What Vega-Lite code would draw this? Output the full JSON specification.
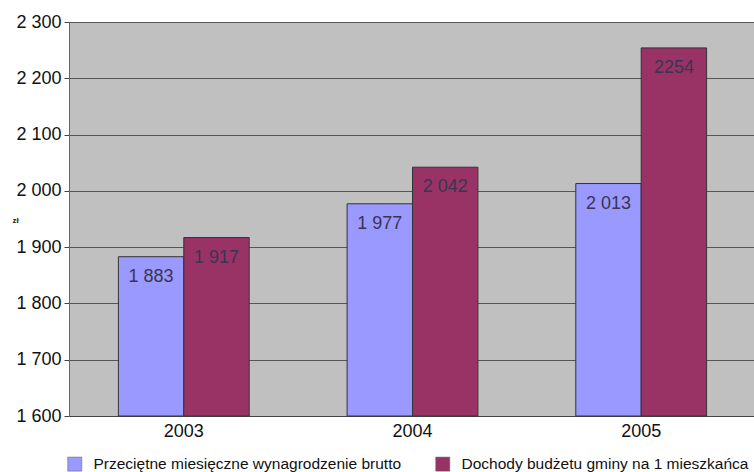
{
  "$schema": "https://vega.github.io/schema/vega-lite/v6.json",
  "autosize": "none",
  "width": 687,
  "height": 394,
  "padding": {"left": 69, "top": 22, "right": 0, "bottom": 56},
  "background": "white",
  "config": {
    "font": "Liberation Sans",
    "locale": {"number": {"decimal": ",", "thousands": " ", "grouping": [3], "currency": ["", " zł"]}},
    "view": {"fill": "#c0c0c0", "stroke": null}
  },
  "data": {
    "values": [
      {"rok": "2003", "seria": "Przeciętne miesięczne wynagrodzenie brutto", "wartosc": 1883, "etykieta": "1 883"},
      {"rok": "2003", "seria": "Dochody budżetu gminy na 1 mieszkańca", "wartosc": 1917, "etykieta": "1 917"},
      {"rok": "2004", "seria": "Przeciętne miesięczne wynagrodzenie brutto", "wartosc": 1977, "etykieta": "1 977"},
      {"rok": "2004", "seria": "Dochody budżetu gminy na 1 mieszkańca", "wartosc": 2042, "etykieta": "2 042"},
      {"rok": "2005", "seria": "Przeciętne miesięczne wynagrodzenie brutto", "wartosc": 2013, "etykieta": "2 013"},
      {"rok": "2005", "seria": "Dochody budżetu gminy na 1 mieszkańca", "wartosc": 2254, "etykieta": "2254"}
    ]
  },
  "encoding": {
    "x": {
      "field": "rok", "type": "nominal",
      "scale": {"paddingInner": 0.428, "paddingOuter": 0.216},
      "axis": {"title": null, "labelAngle": 0, "labelFontSize": 18, "labelColor": "#111", "domainColor": "#444", "tickColor": "#444", "tickSize": 0, "labelPadding": 6}
    },
    "xOffset": {"field": "seria", "type": "nominal", "sort": ["Przeciętne miesięczne wynagrodzenie brutto", "Dochody budżetu gminy na 1 mieszkańca"]},
    "y": {
      "field": "wartosc", "type": "quantitative",
      "scale": {"domain": [1600, 2300], "zero": false, "nice": false},
      "axis": {
        "title": "zł", "titleAngle": 0, "titleFontSize": 8, "titleFontWeight": "bold", "titleColor": "#222",
        "titleX": -57, "titleY": 198, "titleAlign": "left", "titleBaseline": "middle",
        "tickCount": 7, "format": ",d", "labelFontSize": 18, "labelColor": "#111",
        "grid": true, "gridColor": "#555", "gridOpacity": 1, "gridWidth": 1,
        "domainColor": "#666", "tickColor": "#444", "tickSize": 5, "labelPadding": 3
      }
    }
  },
  "layer": [
    {
      "mark": {"type": "bar", "stroke": "#333", "strokeWidth": 1},
      "encoding": {
        "y2": {"datum": 1600},
        "color": {
          "field": "seria", "type": "nominal",
          "sort": ["Przeciętne miesięczne wynagrodzenie brutto", "Dochody budżetu gminy na 1 mieszkańca"],
          "scale": {"domain": ["Przeciętne miesięczne wynagrodzenie brutto", "Dochody budżetu gminy na 1 mieszkańca"], "range": ["#9999ff", "#993366"]},
          "legend": {
            "title": null, "orient": "none", "legendX": -2, "legendY": 434,
            "direction": "horizontal", "columns": 2, "columnPadding": 32,
            "symbolType": "square", "symbolSize": 196, "symbolStrokeColor": "#555", "symbolStrokeWidth": 0.5, "symbolOpacity": 1,
            "labelFontSize": 15.5, "labelColor": "#111", "labelOffset": 11, "labelLimit": 400
          }
        }
      }
    },
    {
      "mark": {"type": "text", "baseline": "alphabetic", "dy": 25, "fontSize": 18, "color": "#3a3550"},
      "encoding": {"text": {"field": "etykieta"}}
    }
  ]
}
